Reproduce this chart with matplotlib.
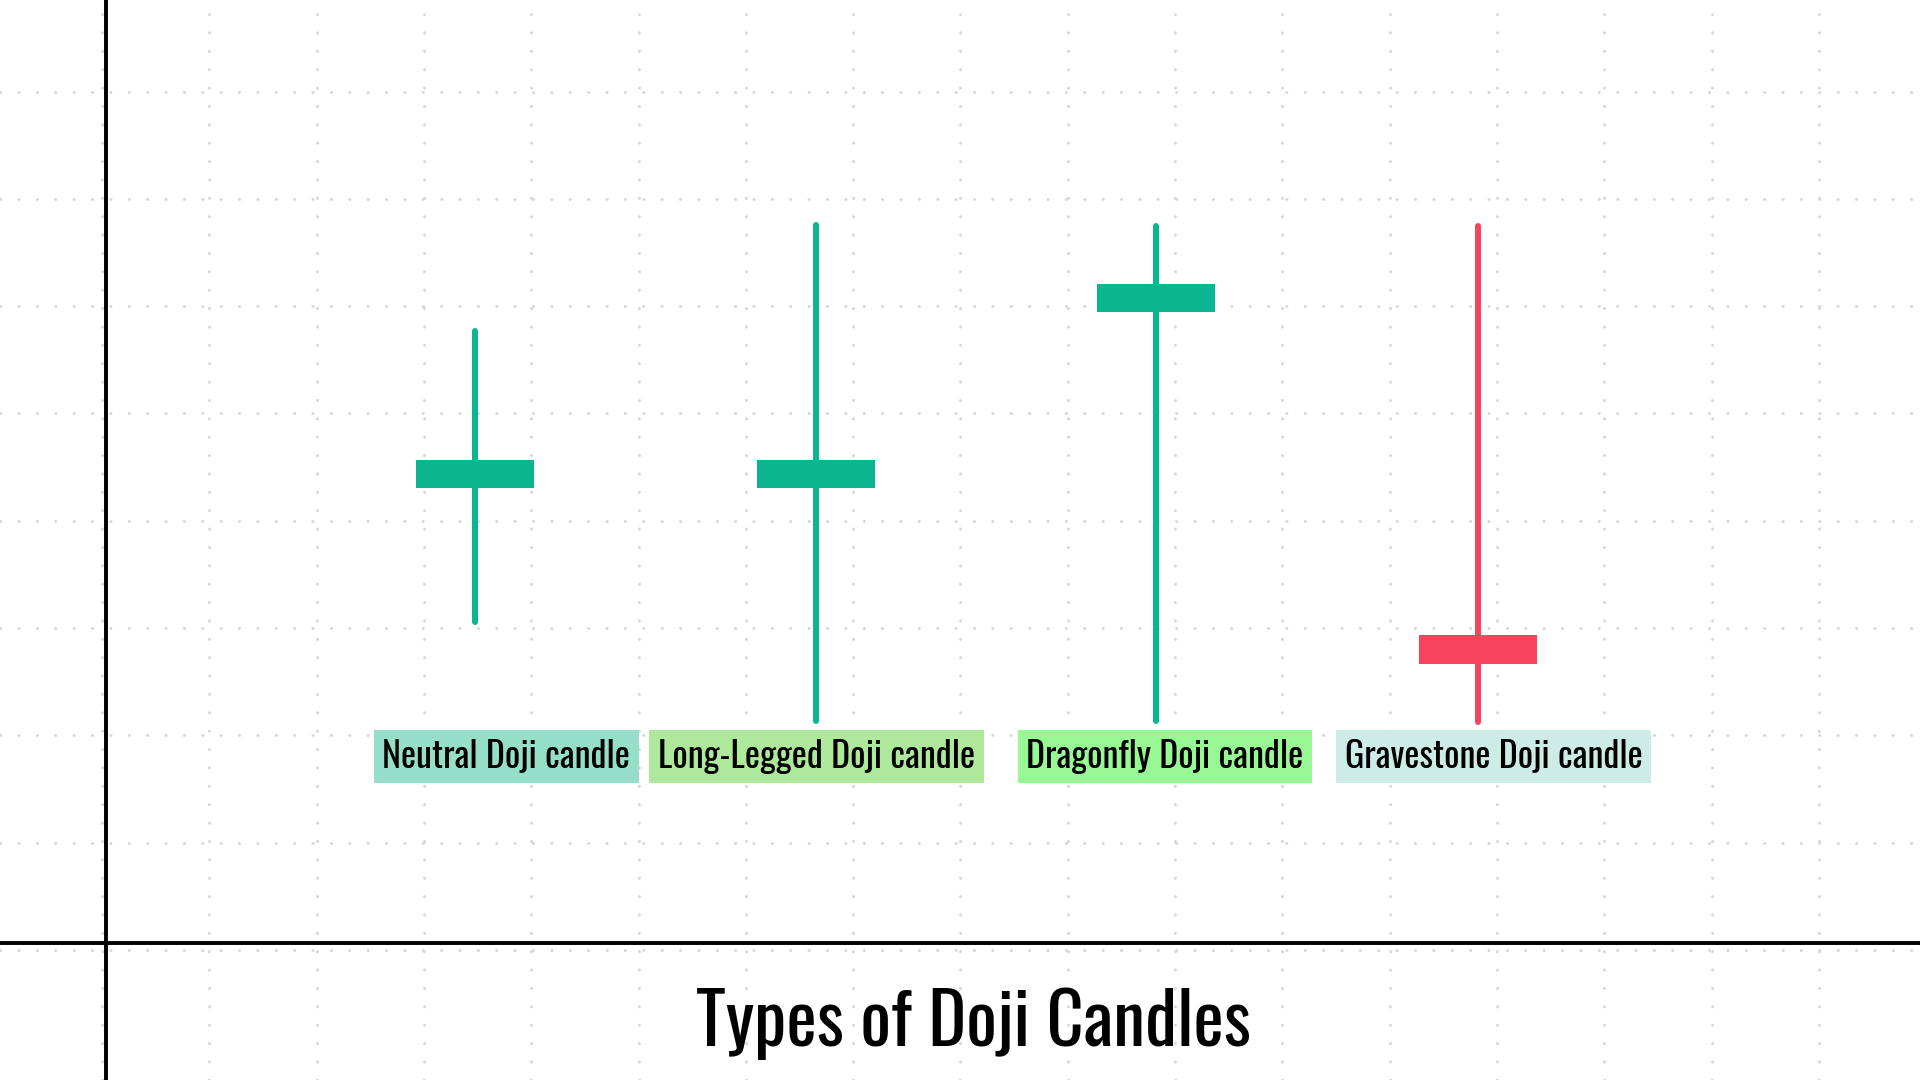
import numpy as np
import matplotlib
matplotlib.use("Agg")
import matplotlib.pyplot as plt
from matplotlib import font_manager

# candle data (price units, one grid cell = 10)
names = ["Neutral Doji candle", "Long-Legged Doji candle",
         "Dragonfly Doji candle", "Gravestone Doji candle"]
slots = [3.44, 6.62, 9.79, 12.79]
opens = [42.4, 42.4, 58.8, 28.7]
closes = [45.0, 45.0, 61.4, 26.0]
highs = [57.0, 66.9, 66.8, 66.8]
lows = [29.9, 20.7, 20.7, 20.6]
label_slots = [3.73, 6.62, 9.87, 12.93]
label_colors = ["#95dfca", "#ade89b", "#97f894", "#cdece7"]
title = "Types of Doji Candles"

UP = "#0ab58f"
DOWN = "#f6445c"

# pick a narrow font if one is installed
available = {f.name for f in font_manager.fontManager.ttflist}
font = "DejaVu Sans"
for cand in ["Oswald", "Roboto Condensed", "Liberation Sans Narrow",
             "DejaVu Sans Condensed", "Open Sans Condensed"]:
    if cand in available:
        font = cand
        break

fig = plt.figure(figsize=(19.2, 10.8), dpi=100)
ax = fig.add_axes([0, 0, 1, 1])

# dotted background grid
ax.set_xticks(np.arange(-0.037, 17, 1))
ax.set_yticks(np.arange(-0.65, 90, 10))
ax.grid(True, color="#d6d6d6", linewidth=2.1, linestyle=(0, (0.1, 6.2)),
        dash_capstyle="round")
ax.tick_params(length=0, labelbottom=False, labelleft=False)
for s in ax.spines.values():
    s.set_visible(False)
ax.set_axisbelow(True)

# limits after ticks so the ticks don't widen the view
ax.set_xlim(-0.988, 16.906)
ax.set_ylim(-12.77, 87.88)

# chart axes
ax.axvline(0, color="black", linewidth=2.8, zorder=2)
ax.axhline(0, color="black", linewidth=2.8, zorder=2)

# candles
colors = [UP if c >= o else DOWN for o, c in zip(opens, closes)]
ax.vlines(slots, lows, highs, colors=colors, linewidth=4.3,
          capstyle="round", zorder=3)
bottoms = [min(o, c) for o, c in zip(opens, closes)]
heights = [abs(c - o) for o, c in zip(opens, closes)]
ax.bar(slots, heights, bottom=bottoms, width=1.1, color=colors, zorder=4)

# labels
for x, name, col in zip(label_slots, names, label_colors):
    ax.text(x, 16.35, name, ha="center", va="baseline", fontsize=26,
            family=font, fontweight="medium", color="black",
            bbox=dict(boxstyle="square,pad=0.24", fc=col, ec="none"), zorder=5)

ax.text(8.08, -9.6, title, ha="center", va="baseline", fontsize=52,
        family=font, fontweight="medium", color="black", zorder=5)

fig.savefig("out.png", dpi=100, facecolor="white")
